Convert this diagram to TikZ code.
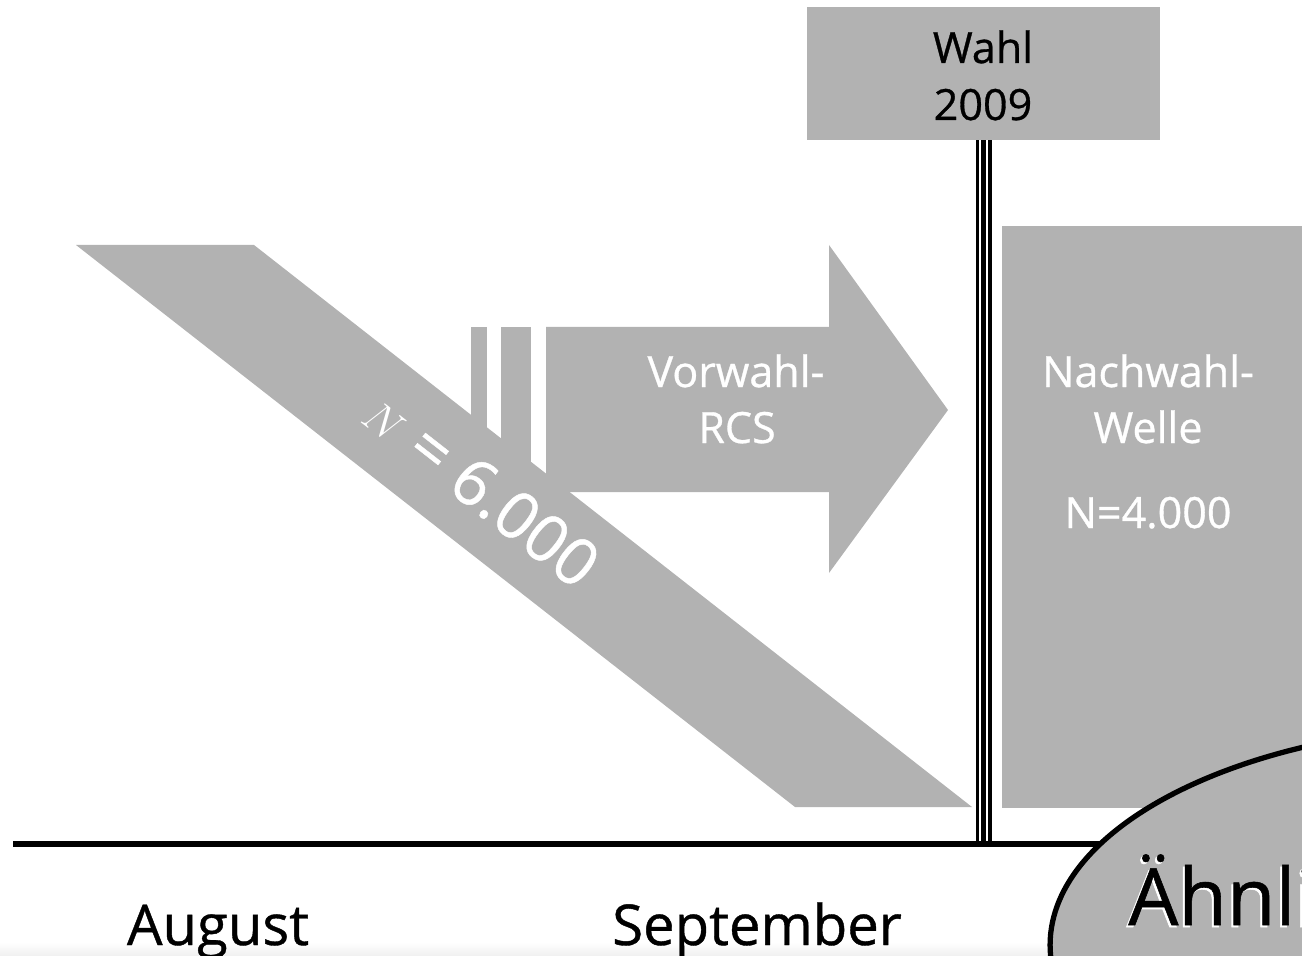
\documentclass[tikz,border=0pt]{standalone}
\usepackage{fontspec}
\setmainfont{Open Sans}[FakeBold=0.7]
\usetikzlibrary{shapes.geometric}
\definecolor{boxgray}{gray}{0.7}
\tikzset{
  grayshape/.style={fill=boxgray, draw=none},
  lbltext/.style={font=\fontsize{24.5}{30}\selectfont, anchor=base, inner sep=0pt},
  whitelbl/.style={lbltext, text=white},
  monthlbl/.style={font=\fontsize{32}{38}\selectfont, anchor=base, inner sep=0pt},
  bigtext/.style={font=\fontsize{45}{50}\selectfont, anchor=base west, inner sep=0pt},
}
\begin{document}
\begin{tikzpicture}[x=0.02cm, y=-0.02cm]
\useasboundingbox (0,0) rectangle (1302,956);

% faint strip at the bottom
\shade[top color=white, bottom color=black!6] (0,942) rectangle (1302,956);

% Vorwahl arrow
\fill[grayshape] (471,327) rectangle (487,492);
\fill[grayshape] (501,327) rectangle (531,492);
\fill[grayshape] (546,327) -- (829,327) -- (829,245) -- (948,410) -- (829,573) -- (829,492) -- (546,492) -- cycle;
\node[whitelbl] (vor1) at (736,387) {Vorwahl-};
\node[whitelbl] (vor2) at (737,443) {RCS};

% slanted band N = 6.000
\fill[grayshape] (76,245) -- (254,245) -- (972,807) -- (795,807) -- cycle;
\node[text=white, font=\fontsize{37}{42}\selectfont, rotate=-38] (band) at (482,488) {$N$ = 6.000};

% Nachwahl box
\fill[grayshape] (1002,226) rectangle (1330,808);
\node[whitelbl] (nach1) at (1148,387) {Nachwahl-};
\node[whitelbl] (nach2) at (1148,443) {Welle};
\node[whitelbl] (nach3) at (1148,528) {N=4.000};

% Wahl box and pole
\node[grayshape, minimum width=7.06cm, minimum height=2.68cm, inner sep=0pt] (wahlbox) at (983.5,73.5) {};
\node[lbltext] (wahl1) at (983,63) {Wahl};
\node[lbltext] (wahl2) at (983,120) {2009};
\coordinate (axisL) at (13,844);
\coordinate (axisR) at (1302,844);
\coordinate (poleTop) at (984,140.5);
\coordinate (poleBot) at (poleTop |- axisL);
\draw[line width=9.07pt] (poleTop) -- (poleBot);
\draw[white, line width=1pt] ([xshift=-0.08cm]poleTop) -- ([xshift=-0.08cm]poleBot);
\draw[white, line width=1pt] ([xshift=0.06cm]poleTop) -- ([xshift=0.06cm]poleBot);

% time axis
\draw[line width=3.4pt] (axisL) -- (axisR);
\node[monthlbl] (aug) at (218,945) {August};
\node[monthlbl] (sep) at (757,945) {September};

% ellipse
\node[ellipse, draw, line width=3pt, fill=boxgray, minimum width=18cm, minimum height=8.8cm, inner sep=0pt] (simell) at (1500,945) {};
\node[bigtext, text=white] (simshadow) at (1126,927) {Ähnli};
\node[bigtext] (simtext) at (1128,925) {Ähnli};
\end{tikzpicture}
\end{document}
